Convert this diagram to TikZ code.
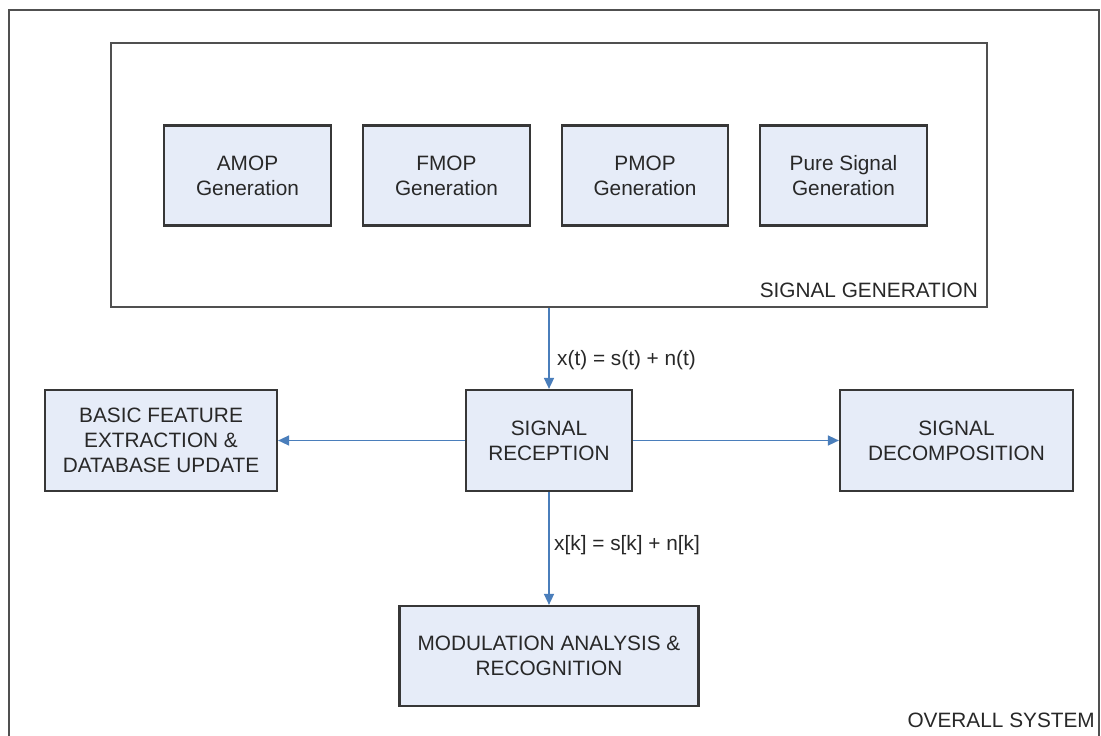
\documentclass[tikz,border=0pt]{standalone}
\usepackage{fontspec}
\setmainfont{Liberation Sans}
\usetikzlibrary{arrows.meta}
\definecolor{boxfill}{RGB}{230,236,248}
\definecolor{boxline}{RGB}{55,55,55}
\definecolor{frameline}{RGB}{80,80,80}
\definecolor{flow}{RGB}{74,126,187}
\definecolor{txt}{RGB}{40,40,40}
\begin{document}
\begin{tikzpicture}[x=1pt,y=-1pt,
  font=\fontsize{20.8}{25}\selectfont,
  every node/.style={text=txt},
  block/.style={draw=boxline,line width=2.2pt,fill=boxfill,inner sep=0pt,align=center},
  group/.style={draw=frameline,line width=2.2pt,inner sep=0pt},
  flowline/.style={draw=flow,line width=1.5pt,-{Triangle[length=11pt,width=10pt]}},
  caption/.style={anchor=base west,inner sep=0pt},
  tag/.style={anchor=base east,inner sep=0pt}]
\useasboundingbox (0,0) rectangle (1101,736);
\fill[white] (0,0) rectangle (1101,736);
% outer system frame (open at the bottom)
\draw[frameline,line width=2.2pt] (9,736) -- (9,10) -- (1099,10) -- (1099,736);
\node[tag] (overall) at (1095,727) {OVERALL SYSTEM};
% signal generation group
\node[group,minimum width=876pt,minimum height=264pt] (gen) at (549,175) {};
\node[tag] (gentag) at (978,297) {SIGNAL GENERATION};
\node[block,minimum width=167pt,minimum height=100pt] (amop) at (247.5,175.5) {AMOP\\Generation};
\node[block,minimum width=167pt,minimum height=100pt] (fmop) at (446.5,175.5) {FMOP\\Generation};
\node[block,minimum width=166pt,minimum height=100pt] (pmop) at (645,175.5) {PMOP\\Generation};
\node[block,minimum width=167pt,minimum height=100pt] (pure) at (843.5,175.5) {Pure Signal\\Generation};
% processing chain
\node[block,minimum width=166pt,minimum height=101pt] (rec) at (549,440.5) {SIGNAL\\RECEPTION};
\node[block,minimum width=232pt,minimum height=101pt] (basic) at (161,440.5) {BASIC FEATURE\\EXTRACTION \&\\DATABASE UPDATE};
\node[block,minimum width=233pt,minimum height=101pt] (dec) at (956.5,440.5) {SIGNAL\\DECOMPOSITION};
\node[block,minimum width=299pt,minimum height=100pt] (mod) at (549,656) {MODULATION ANALYSIS \&\\RECOGNITION};
% connectors
\draw[flowline] (gen.south) -- (rec.north);
\draw[flowline] (rec.west) -- (basic.east);
\draw[flowline] (rec.east) -- (dec.west);
\draw[flowline] (rec.south) -- (mod.north);
\node[caption] (xt) at (557,365) {x(t) = s(t) + n(t)};
\node[caption] (xk) at (554,550) {x[k] = s[k] + n[k]};
\end{tikzpicture}
\end{document}
